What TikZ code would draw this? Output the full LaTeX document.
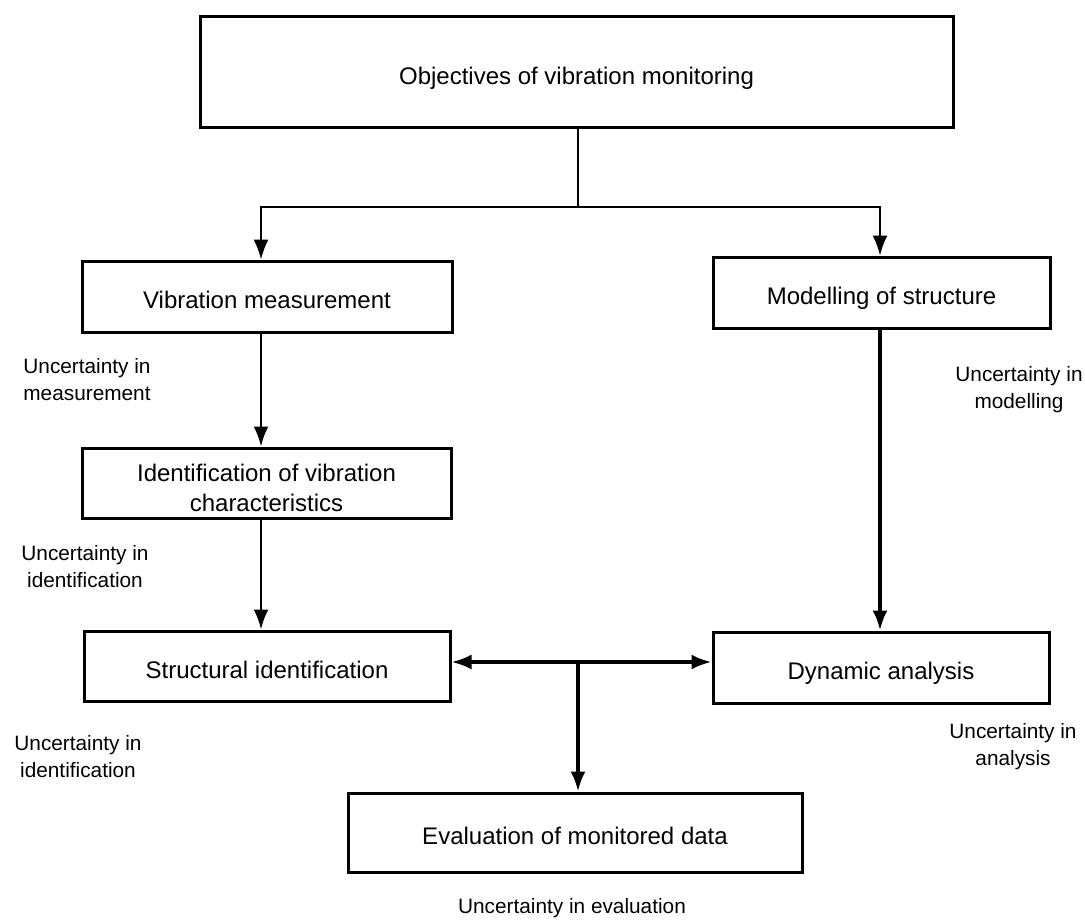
\documentclass[tikz,border=0pt]{standalone}
\usepackage{fontspec}
\setmainfont{Liberation Sans}
\usetikzlibrary{arrows.meta}

\begin{document}
\begin{tikzpicture}[x=0.5pt, y=-0.5pt,
	>={Latex[length=10pt,width=7.5pt]},
	frame/.style={draw, line width=1.5pt, inner sep=0pt, align=center, font=\fontsize{12}{15}\selectfont},
	box/.style={frame, text height=14.8pt, text depth=2.5pt},
	note/.style={align=center, font=\fontsize{10.4}{13.5}\selectfont},
	link/.style={line width=1.3pt}]
\useasboundingbox (0,0) rectangle (1085,920);
% boxes
\node[box, minimum width=376.5pt, minimum height=55pt] (objectives) at (576.5,72) {Objectives of vibration monitoring};
\node[box, minimum width=185pt, minimum height=35.5pt] (measure) at (267,296.5) {Vibration measurement};
\node[box, minimum width=168.5pt, minimum height=35.5pt] (model) at (881.5,292.5) {Modelling of structure};
\node[frame, minimum width=184.5pt, minimum height=35pt] (ident) at (266.5,483) {\rule{0pt}{14pt}Identification of vibration\\characteristics};
\node[box, minimum width=183pt, minimum height=35pt] (struct) at (267,666) {Structural identification};
\node[box, minimum width=168pt, minimum height=35.5pt] (dynamic) at (881,667.5) {Dynamic analysis};
\node[box, minimum width=227pt, minimum height=39.5pt] (evaluation) at (575,832.5) {Evaluation of monitored data};
% uncertainty notes
\node[note] (umeasure) at (87,380) {Uncertainty in\\measurement};
\node[note] (uident) at (85,567) {Uncertainty in\\identification};
\node[note] (ustruct) at (78,757) {Uncertainty in\\identification};
\node[note] (umodel) at (1019,390) {Uncertainty in\\modelling};
\node[note] (uanalysis) at (1013,746.5) {Uncertainty in\\analysis};
\node[note] (uevaluation) at (572,908) {Uncertainty in evaluation};
% connectors
\coordinate (split) at (578,207);
\coordinate (join) at (578,662);
\coordinate (leftcol) at (261,0);
\coordinate (rightcol) at (880,0);
\draw[line width=1pt] (objectives.south -| split) -- (split);
\draw[->, line width=1pt] (split) -| (measure.north -| leftcol);
\draw[->, line width=1pt] (split) -| (model.north -| rightcol);
\draw[->, link] (measure.south -| leftcol) -- (ident.north -| leftcol);
\draw[->, link] (ident.south -| leftcol) -- (struct.north -| leftcol);
\draw[->, line width=1.8pt] (model.south -| rightcol) -- (dynamic.north -| rightcol);
\draw[<->, line width=1.7pt] (struct.east |- join) -- (dynamic.west |- join);
\draw[->, line width=1.7pt] (join) -- (evaluation.north -| join);
\end{tikzpicture}
\end{document}
